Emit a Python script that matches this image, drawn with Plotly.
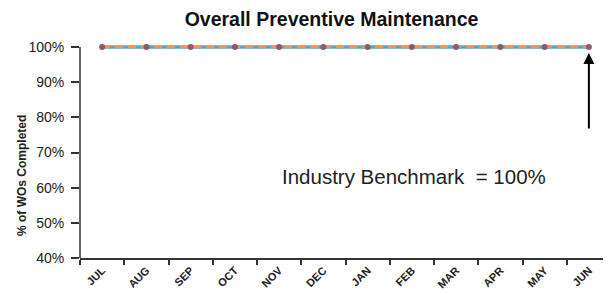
import plotly.graph_objects as go

months = ["JUL", "AUG", "SEP", "OCT", "NOV", "DEC", "JAN", "FEB", "MAR", "APR", "MAY", "JUN"]
benchmark = [1.0] * 12
completed = [1.0, 1.0, 1.0, 1.0, 1.0, 1.0, 1.0, 1.0, 1.0, 1.0, 1.0, 1.0]
y_ticks = [0.4, 0.5, 0.6, 0.7, 0.8, 0.9, 1.0]

FONT = "Liberation Sans, Arial, sans-serif"
pos = list(range(len(months)))
boundaries = [p - 0.5 for p in pos] + [pos[-1] + 0.5]

fig = go.Figure()
fig.add_trace(go.Scatter(
    x=pos, y=benchmark, mode="lines",
    line=dict(color="#4BACC6", width=3.5),
    showlegend=False, hoverinfo="skip"))
fig.add_trace(go.Scatter(
    x=pos, y=completed, mode="lines+markers", text=months,
    line=dict(color="#F79646", width=2.5, dash="8px,5px"),
    marker=dict(color="#8C5A6A", size=6, symbol="circle"),
    cliponaxis=False, showlegend=False))

# y axis line drawn only up to 100%
fig.add_shape(type="line", xref="paper", yref="y", x0=0, x1=0, y0=0.4, y1=1.0,
              line=dict(color="#333333", width=1.5))

fig.add_annotation(
    x=pos[-1], y=1.0, ax=0, ay=83, xref="x", yref="y", axref="pixel", ayref="pixel",
    showarrow=True, arrowhead=2, arrowsize=1.1, arrowwidth=2, arrowcolor="#000000",
    standoff=6, text="")
fig.add_annotation(
    x=(405.5 - 72) / 531, y=(250 - 168) / 215, xref="paper", yref="paper",
    xanchor="center", yanchor="middle",
    text="Industry Benchmark  = 100%", showarrow=False,
    font=dict(family=FONT, size=20.5, color="#222222"))
fig.add_annotation(
    x=(14 - 72) / 531, y=(250 - 168) / 215, xref="paper", yref="paper",
    xanchor="center", yanchor="middle",
    text="<b>% of WOs Completed</b>", showarrow=False, textangle=-90,
    font=dict(family=FONT, size=12, color="#222222"))

fig.update_layout(
    width=603, height=287,
    margin=dict(l=72, r=0, t=35, b=37),
    paper_bgcolor="white", plot_bgcolor="white",
    title=dict(text="<b>Overall Preventive Maintenance</b>", x=323.5 / 603, xanchor="center",
               y=1.0 - 4 / 287, yanchor="top", pad=dict(t=0, b=0),
               font=dict(family=FONT, size=19.5, color="#111111")),
    font=dict(family=FONT, color="#222222"),
)

fig.update_xaxes(
    range=[boundaries[0], boundaries[-1]], showline=True, linecolor="#333333", linewidth=1.5,
    tickmode="array", tickvals=pos, ticktext=months, ticks="", automargin=False,
    minor=dict(tickmode="array", tickvals=boundaries, ticks="outside", ticklen=5,
               tickcolor="#333333", tickwidth=1.5, showgrid=False),
    tickangle=-45, tickfont=dict(size=11, family=FONT, color="#222222", weight="bold"),
    showgrid=False, zeroline=False)
fig.update_yaxes(
    range=[0.4, 0.4 + 0.6 * 215 / 211], tickvals=y_ticks, tickformat=".0%", showline=False,
    ticks="outside", ticklen=8, tickcolor="#333333", tickwidth=1.5, ticklabelstandoff=4,
    tickfont=dict(size=14, family=FONT, color="#222222"), automargin=False,
    showgrid=False, zeroline=False)

fig.write_html("out.html")
